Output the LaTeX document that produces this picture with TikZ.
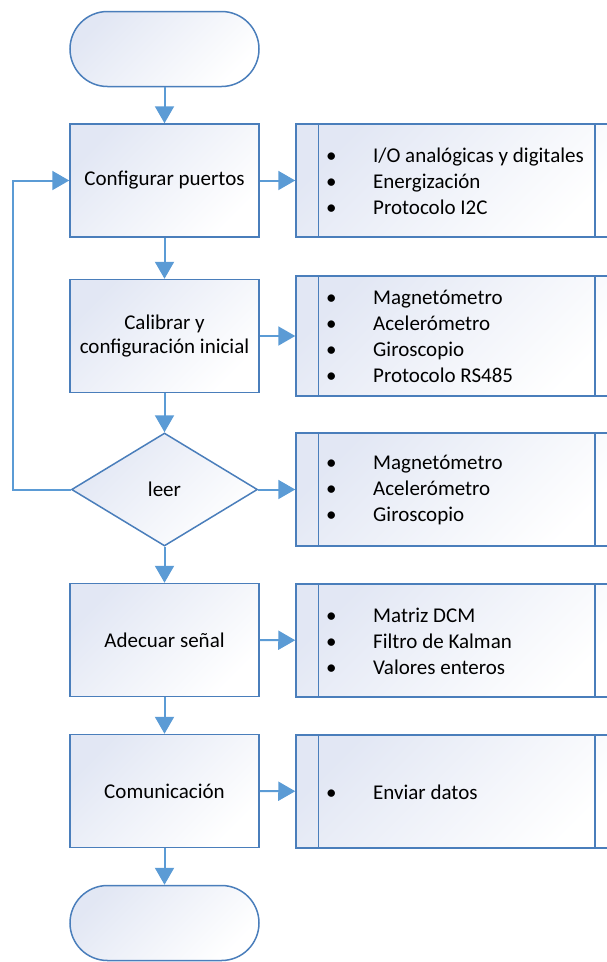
\documentclass[tikz,border=0pt]{standalone}
\usepackage{fontspec}
\setmainfont{Carlito}
\usetikzlibrary{shapes.geometric,shapes.misc,arrows.meta}
\definecolor{edgeblue}{RGB}{74,126,187}
\definecolor{flowblue}{RGB}{91,155,213}
\definecolor{shadeblue}{RGB}{226,231,244}
\newcommand{\bulletrow}[1]{\makebox[47pt][l]{\textbullet}#1}
\begin{document}
\begin{tikzpicture}[x=1pt,y=-1pt,
  font=\fontsize{21}{26}\selectfont,
  shaded/.style={top color=shadeblue, bottom color=white, shading angle=45},
  stepbox/.style={rectangle, draw=edgeblue, line width=1.5pt, shaded,
    minimum width=189pt, minimum height=113pt, inner sep=0pt, align=center},
  termbox/.style={rounded rectangle, draw=edgeblue, line width=1.5pt, shaded,
    minimum width=189pt, minimum height=75pt, inner sep=0pt},
  choice/.style={diamond, draw=edgeblue, line width=1.5pt, shaded,
    minimum width=186pt, minimum height=113pt, inner sep=0pt},
  procbox/.style={rectangle, draw=edgeblue, line width=1.5pt, shaded,
    minimum width=321pt, inner sep=0pt},
  flow/.style={draw=flowblue, line width=2pt, -{Triangle[length=17pt,width=19pt]}},
  items/.style={anchor=west, align=left, inner sep=0pt}
]
\clip (0,0) rectangle (607,962);

% main column
\node[termbox] (start) at (164.5,49) {};
\node[stepbox] (ports) at (164.5,180.5) {Configurar puertos};
\node[stepbox, font=\fontsize{21}{24}\selectfont] (calib) at (164.5,336) {Calibrar y\\configuración inicial};
\node[choice] (read) at (164.5,489.5) {leer};
\node[stepbox] (cond) at (164.5,640) {Adecuar señal};
\node[stepbox] (comm) at (164.5,791) {Comunicación};
\node[termbox] (end) at (164.5,923) {};

% predefined-process boxes
\node[procbox, minimum height=113pt] (pp1) at (456.5,180.5) {};
\node[procbox, minimum height=120pt] (pp2) at (456.5,336) {};
\node[procbox, minimum height=113pt] (pp3) at (456.5,489.5) {};
\node[procbox, minimum height=113pt] (pp4) at (456.5,640.5) {};
\node[procbox, minimum height=113pt] (pp5) at (456.5,791.5) {};
\foreach \b in {pp1,pp2,pp3,pp4,pp5}{
  \draw[edgeblue, line width=1.5pt] ([xshift=23pt]\b.north west) -- ([xshift=23pt]\b.south west);
  \draw[edgeblue, line width=1.5pt] ([xshift=-23pt]\b.north east) -- ([xshift=-23pt]\b.south east);
}

% bullet lists
\node[items] (l1) at (326,181) {\bulletrow{I/O analógicas y digitales}\\\bulletrow{Energización}\\\bulletrow{Protocolo I2C}};
\node[items] (l2) at (326,336) {\bulletrow{Magnetómetro}\\\bulletrow{Acelerómetro}\\\bulletrow{Giroscopio}\\\bulletrow{Protocolo RS485}};
\node[items] (l3) at (326,490) {\bulletrow{Magnetómetro}\\\bulletrow{Acelerómetro}\\\bulletrow{Giroscopio}};
\node[items] (l4) at (326,641) {\bulletrow{Matriz DCM}\\\bulletrow{Filtro de Kalman}\\\bulletrow{Valores enteros}};
\node[items] (l5) at (326,792) {\bulletrow{Enviar datos}};

% connectors
\draw[flow] (start) -- (ports);
\draw[flow] (ports) -- (calib);
\draw[flow] (calib) -- (read);
\draw[flow] (read) -- (cond);
\draw[flow] (cond) -- (comm);
\draw[flow] (comm) -- (end);
\draw[flow] (ports) -- (pp1);
\draw[flow] (calib) -- (pp2);
\draw[flow] (read) -- (pp3);
\draw[flow] (cond) -- (pp4);
\draw[flow] (comm) -- (pp5);
\draw[flow] (read.west) -- ++(-57.5,0) |- (ports.west);
\end{tikzpicture}
\end{document}
